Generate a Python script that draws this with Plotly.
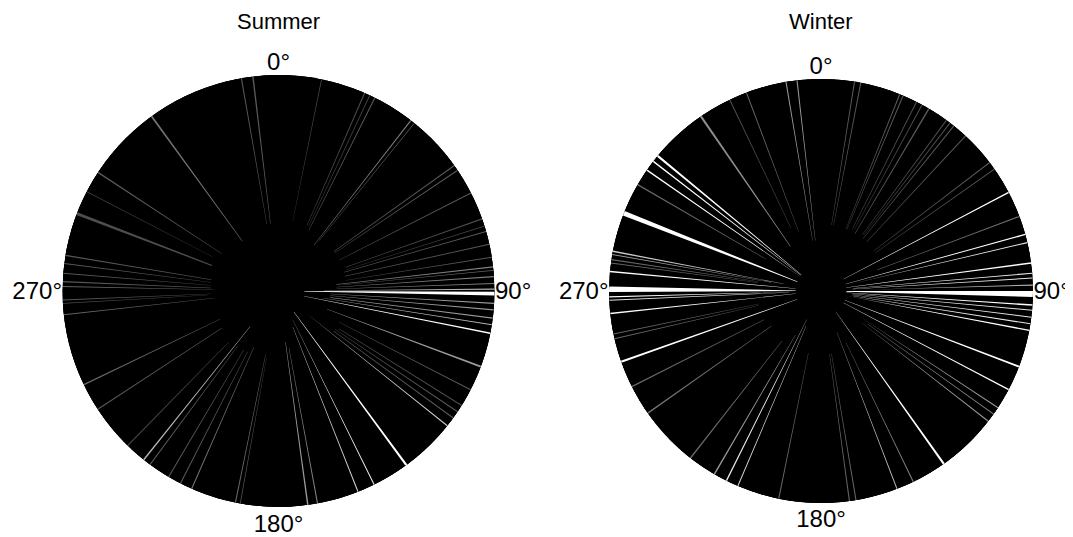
import plotly.graph_objects as go

# Directions (deg, clockwise from north) with no/low observations, their angular width,
# and how empty they are (1 = empty, lower = partly covered)
summer_gap_theta = [11.5, 23.5, 25.0, 26.5, 37.8, 39.0, 54.5, 56.0, 63.0, 70.5, 72.5, 74.0,
                    77.5, 81.0, 83.6, 84.5, 86.2, 88.0, 89.5, 90.7, 93.3, 95.0, 97.2, 99.0,
                    101.3, 110.5, 117.2, 122.0, 124.0, 126.0, 128.6, 143.7, 153.7, 158.4,
                    169.6, 172.2,
                    350.1, 353.2, 324.0, 303.3, 297.4, 291.0, 279.5, 277.3, 274.7, 272.5,
                    271.2, 267.6, 266.7, 263.7, 244.3, 236.8, 224.3, 218.6, 216.5, 210.6,
                    207.0, 203.7, 191.5, 190.2]
summer_gap_width = [0.2, 0.3, 0.2, 0.3, 0.3, 0.2, 0.3, 0.3, 0.3, 0.3, 0.2, 0.3,
                    0.3, 0.3, 0.3, 0.2, 0.3, 0.3, 0.3, 1.0, 0.3, 0.3, 0.3, 0.3,
                    0.4, 0.5, 0.3, 0.3, 0.3, 0.3, 0.3, 0.6, 0.3, 0.3,
                    0.3, 0.4,
                    0.3, 0.4, 0.5, 0.4, 0.2, 0.8, 0.3, 0.3, 0.3, 0.3,
                    0.3, 0.3, 0.2, 0.3, 0.4, 0.3, 0.3, 0.4, 0.3, 0.3,
                    0.3, 0.3, 0.3, 0.2]
summer_gap_level = [0.3, 0.3, 0.3, 0.35, 0.5, 0.4, 0.35, 0.35, 0.35, 0.3, 0.3, 0.35,
                    0.35, 0.35, 0.5, 0.4, 0.5, 0.5, 0.7, 1.0, 0.6, 0.6, 0.6, 0.7,
                    1.0, 0.6, 0.35, 0.3, 0.35, 0.35, 0.8, 1.0, 0.9, 0.8,
                    0.5, 0.6,
                    0.35, 0.35, 0.45, 0.35, 0.25, 0.3, 0.35, 0.35, 0.35, 0.35,
                    0.4, 0.35, 0.3, 0.4, 0.4, 0.35, 0.3, 0.7, 0.35, 0.35,
                    0.35, 0.45, 0.4, 0.35]

winter_gap_theta = [9.1, 10.8, 21.8, 22.8, 26.8, 28.5, 30.6, 36.3, 37.5, 38.8, 43.0, 52.7,
                    54.9, 62.3, 69.4, 74.5, 76.8, 82.4, 85.2, 86.5, 88.4, 90.8, 93.8, 95.2,
                    97.1, 98.9, 100.7, 110.9, 117.7, 123.4, 125.5, 127.9, 144.6, 154.2,
                    159.0, 170.5, 172.3,
                    350.5, 353.5, 339.4, 334.5, 325.5, 309.6, 307.7, 304.8, 300.1, 291.5,
                    280.8, 279.9, 278.5, 277.6, 275.3, 270.5, 268.4, 267.5, 263.9, 258.3,
                    257.0, 250.5, 243.2, 234.8, 218.0, 210.2, 206.5, 203.1, 191.5]
winter_gap_width = [0.3, 0.3, 0.3, 0.3, 0.3, 0.3, 0.4, 0.3, 0.3, 0.3, 0.3, 0.3,
                    0.3, 0.4, 0.3, 0.4, 0.3, 0.4, 0.3, 0.3, 0.3, 1.6, 0.4, 0.3,
                    0.3, 0.3, 0.4, 0.5, 0.4, 0.3, 0.3, 0.3, 0.6, 0.3,
                    0.3, 0.3, 0.3,
                    0.3, 0.3, 0.3, 0.3, 0.6, 0.6, 0.4, 0.4, 0.4, 1.3,
                    0.4, 0.3, 0.3, 0.3, 0.4, 1.5, 0.3, 0.3, 0.4, 0.3,
                    0.3, 0.6, 0.4, 0.4, 0.4, 0.4, 0.4, 0.3, 0.3]
winter_gap_level = [0.35, 0.35, 0.35, 0.35, 0.3, 0.3, 0.35, 0.3, 0.3, 0.35, 0.35, 0.35,
                    0.35, 1.0, 0.45, 1.0, 0.9, 1.0, 0.9, 0.9, 0.7, 1.0, 1.0, 0.9,
                    0.9, 0.9, 1.0, 1.0, 1.0, 0.6, 0.5, 0.6, 1.0, 0.5,
                    0.7, 0.4, 0.4,
                    0.6, 0.6, 0.4, 0.3, 0.55, 1.0, 1.0, 1.0, 0.4, 1.0,
                    0.8, 0.6, 0.4, 0.4, 1.0, 1.0, 1.0, 0.9, 1.0, 0.4,
                    0.4, 1.0, 0.4, 0.45, 0.4, 0.6, 0.9, 0.8, 0.4]

seasons = ["Summer", "Winter"]
tick_vals = [0, 90, 180, 270]
tick_text = ["0°", "90°", "180°", "270°"]

FONT = "Liberation Sans, Arial, Helvetica, sans-serif"
MAX_PIECE = 1.5  # split long covered sectors so the rim stays round


def covered_sectors(theta, width):
    """Observed sectors = the circle minus the gaps (split into short pieces)."""
    edges = sorted((t - w / 2, t + w / 2) for t, w in zip(theta, width))
    n = len(edges)
    cen, wid = [], []
    for i, (s, e) in enumerate(edges):
        ns = edges[(i + 1) % n][0] + (360 if i == n - 1 else 0)
        span = ns - e
        k = max(1, int(span // MAX_PIECE) + 1)
        step = span / k
        for j in range(k):
            cen.append((e + step * (j + 0.5)) % 360)
            wid.append(step)
    return cen, wid


fig = go.Figure()
data = [(summer_gap_theta, summer_gap_width, summer_gap_level),
        (winter_gap_theta, winter_gap_width, winter_gap_level)]
for i, (th, wd, lv) in enumerate(data):
    sub = "polar" if i == 0 else "polar2"
    bc, bw = covered_sectors(th, wd)
    fig.add_trace(go.Barpolar(
        theta=bc, width=bw, r=[1] * len(bc),
        marker=dict(color="black", line=dict(width=1.0, color="black")),
        subplot=sub, showlegend=False, hoverinfo="skip",
    ))
    base = [0.12 + 0.3 * (1 - v) for v in lv]
    fig.add_trace(go.Barpolar(
        theta=th, width=wd, base=base, r=[1 - b for b in base],
        marker=dict(color=lv, colorscale=[[0, "black"], [1, "white"]], cmin=0, cmax=1,
                    line=dict(width=0)),
        subplot=sub, showlegend=False, hoverinfo="theta",
    ))

polar_common = dict(
    bgcolor="black",
    radialaxis=dict(range=[0, 1], visible=False),
    angularaxis=dict(rotation=90, direction="clockwise", tickmode="array",
                     tickvals=tick_vals, ticktext=tick_text, showgrid=False,
                     showline=False, ticks="", tickfont=dict(size=24, color="black", family=FONT)),
    barmode="overlay", bargap=0,
)
fig.update_layout(
    width=1073, height=537,
    margin=dict(l=0, r=0, t=67, b=38),
    paper_bgcolor="white", plot_bgcolor="white",
    polar=dict(domain=dict(x=[0, 0.5042], y=[0, 1]), **polar_common),
    polar2=dict(domain=dict(x=[0.5154, 1.0], y=[0.0093, 0.9907]), **polar_common),
    annotations=[
        dict(text=seasons[0], x=0.2521, y=1.125, xref="paper", yref="paper",
             xanchor="center", yanchor="middle",
             showarrow=False, font=dict(size=22, color="black", family=FONT)),
        dict(text=seasons[1], x=0.7577, y=1.125, xref="paper", yref="paper",
             xanchor="center", yanchor="middle",
             showarrow=False, font=dict(size=22, color="black", family=FONT)),
    ],
)
fig.write_html("out.html")
